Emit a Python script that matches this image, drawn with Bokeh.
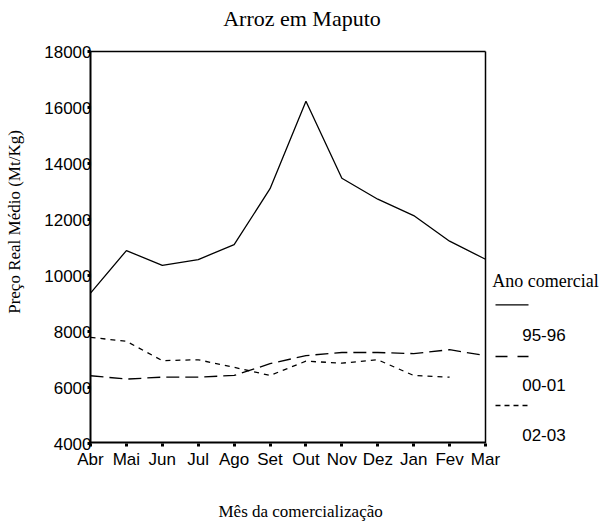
from bokeh.plotting import figure
from bokeh.models import FixedTicker, ColumnDataSource, Range1d, Title
from bokeh.core.properties import value
from bokeh.embed import file_html
from bokeh.resources import INLINE

months = ["Abr", "Mai", "Jun", "Jul", "Ago", "Set", "Out", "Nov", "Dez", "Jan", "Fev", "Mar"]
series_95_96 = [9370, 10890, 10360, 10570, 11100, 13100, 16225, 13475, 12725, 12140, 11225, 10580]
series_00_01 = [6420, 6300, 6370, 6370, 6430, 6850, 7140, 7250, 7250, 7210, 7350, 7140]
series_02_03 = [7790, 7650, 6960, 6990, 6720, 6430, 6940, 6870, 6990, 6430, 6370]
title_text = "Arroz em Maputo"
x_title = "Mês da comercialização"
y_title = "Preço Real Médio (Mt/Kg)"
legend_title = "Ano comercial"
legend_labels = ["95-96", "00-01", "02-03"]
y_ticks = [4000, 6000, 8000, 10000, 12000, 14000, 16000, 18000]
y_min, y_max = 4000, 18000

SERIF = "Liberation Serif"
SANS = "Liberation Sans"

# layout in page pixels
W, H = 608, 524
BOX_L, BOX_R, BOX_T, BOX_B = 90, 485, 51, 443

n = len(months)
x_end = (n - 1) * (W - BOX_L) / (BOX_R - BOX_L)              # frame reaches the right edge (legend room)
y_end = y_min + (y_max - y_min) * BOX_B / (BOX_B - BOX_T)     # frame reaches the top edge (title room)

p = figure(width=W, height=H, output_backend="svg", toolbar_location=None, title_location=None,
           x_range=Range1d(0, x_end), y_range=Range1d(y_min, y_end),
           min_border_left=BOX_L, min_border_right=0, min_border_top=0, min_border_bottom=H - BOX_B)
p.extra_x_ranges = {"px": Range1d(BOX_L, W)}
p.extra_y_ranges = {"px": Range1d(BOX_B, 0)}
p.xgrid.visible = False
p.ygrid.visible = False
p.outline_line_color = None

xs = list(range(n))
styles = [("solid", series_95_96), ("13 6", series_00_01), ("5 5", series_02_03)]
for dash, vals in styles:
    src = ColumnDataSource(dict(x=xs[:len(vals)], y=vals))
    p.line("x", "y", source=src, line_color="black", line_width=1.3, line_dash=dash)

# box: top, right and bottom borders
p.line(x=[BOX_L, BOX_R], y=[BOX_T, BOX_T], x_range_name="px", y_range_name="px",
       line_color="black", line_width=1.5)
p.line(x=[BOX_R, BOX_R], y=[BOX_T, BOX_B], x_range_name="px", y_range_name="px",
       line_color="black", line_width=1.5)
p.line(x=[BOX_L, BOX_R], y=[BOX_B, BOX_B], x_range_name="px", y_range_name="px",
       line_color="black", line_width=4)

# axes
p.xaxis.ticker = FixedTicker(ticks=xs)
p.xaxis.major_label_overrides = {i: m for i, m in enumerate(months)}
p.xaxis.bounds = (0, n - 1)
p.xaxis.axis_line_color = None
p.yaxis.ticker = FixedTicker(ticks=y_ticks)
p.yaxis.bounds = (y_min, y_max)
p.yaxis.axis_line_color = "black"
p.yaxis.axis_line_width = 2
for ax in (p.xaxis[0], p.yaxis[0]):
    ax.major_tick_line_color = "black"
    ax.major_tick_line_width = 3
    ax.major_tick_out = 3
    ax.major_tick_in = 0
    ax.minor_tick_line_color = None
    ax.major_label_text_font = SANS
    ax.major_label_text_font_size = "17px"
    ax.major_label_text_color = "black"
    ax.axis_label_text_font = SERIF
    ax.axis_label_text_font_size = "17px"
    ax.axis_label_text_font_style = "normal"
    ax.axis_label_text_color = "black"
p.yaxis.major_label_standoff = -4
p.xaxis.major_label_standoff = 3
p.yaxis.axis_label = y_title
p.yaxis.axis_label_standoff = 17
# blank spacer label so the title below sits at the right height
p.xaxis.axis_label = "\u00a0"
p.xaxis.axis_label_standoff = 6

xlab = Title(text=x_title, align="left", offset=128, text_font=SERIF, text_font_size="17px",
             text_font_style="normal", text_color="black", standoff=0)
p.add_layout(xlab, "below")

# title (page-pixel coordinates via the "px" ranges)
p.text(x=[301.5], y=[17.5], text=[title_text], x_range_name="px", y_range_name="px",
       text_font=value(SERIF), text_font_size="22px", text_align="center",
       text_baseline="alphabetic", text_color="black")

# legend
p.text(x=[491.7], y=[280], text=[legend_title], x_range_name="px", y_range_name="px",
       text_font=value(SERIF), text_font_size="18px", text_baseline="alphabetic", text_color="black")
leg_line_y = [304.3, 356, 405]
leg_text_y = [334, 384, 434]
leg_dash = ["solid", "12 10", "5 4"]
for ly, dash in zip(leg_line_y, leg_dash):
    p.line(x=[495, 528], y=[ly, ly], x_range_name="px", y_range_name="px",
           line_color="black", line_width=1.3, line_dash=dash)
p.text(x=[521.7] * 3, y=leg_text_y, text=legend_labels, x_range_name="px", y_range_name="px",
       text_font=value(SANS), text_font_size="17px", text_baseline="alphabetic", text_color="black")

open("out.html", "w").write(file_html(p, INLINE))
